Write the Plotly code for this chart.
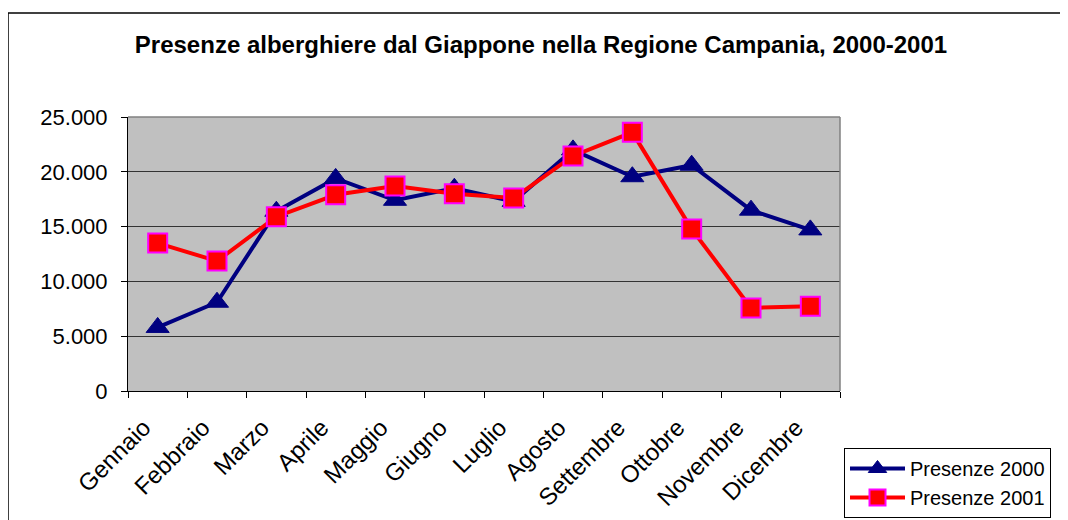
import plotly.graph_objects as go

months = ["Gennaio", "Febbraio", "Marzo", "Aprile", "Maggio", "Giugno",
          "Luglio", "Agosto", "Settembre", "Ottobre", "Novembre", "Dicembre"]
presenze_2000 = [5800, 8100, 16400, 19400, 17400, 18500, 17300, 22000, 19550, 20600, 16500, 14700]
presenze_2001 = [13500, 11850, 15900, 17900, 18700, 18000, 17600, 21450, 23600, 14770, 7580, 7740]
y_tickvals = [0, 5000, 10000, 15000, 20000, 25000]
y_ticktext = ["0", "5.000", "10.000", "15.000", "20.000", "25.000"]

font_family = "Liberation Sans, Arial, sans-serif"

# page body has an 8px margin; work in screen coords minus this offset
OFF = 8
W, H = 1068 - OFF, 520 - OFF
L, R, T, B = 128 - OFF, 840 - OFF, 117 - OFF, 391 - OFF
pw, ph = R - L, B - T

fig = go.Figure()
fig.add_trace(go.Scatter(
    x=months, y=presenze_2000, name="Presenze 2000", mode="lines+markers",
    line=dict(color="#000080", width=4),
    marker=dict(symbol="triangle-up", size=20, color="#000080",
                line=dict(color="#000080", width=1)),
))
fig.add_trace(go.Scatter(
    x=months, y=presenze_2001, name="Presenze 2001", mode="lines+markers",
    line=dict(color="#FF0000", width=4),
    marker=dict(symbol="square", size=19, color="#FF0000",
                line=dict(color="#FF00FF", width=2)),
))

fig.update_layout(
    width=W, height=H,
    margin=dict(l=L, r=W - R, t=T, b=H - B, pad=0, autoexpand=False),
    paper_bgcolor="white",
    plot_bgcolor="#C0C0C0",
    font=dict(family=font_family, color="black"),
    title=dict(text="<b>Presenze alberghiere dal Giappone nella Regione Campania, 2000-2001</b>",
               x=(541 - OFF) / W, xanchor="center", y=1 - (45 - OFF) / H, yanchor="middle",
               font=dict(size=24, family=font_family, color="black")),
    showlegend=True,
    legend=dict(x=(844 - OFF - L) / pw, xanchor="left", y=(B - (448 - OFF)) / ph, yanchor="top",
                bordercolor="black", borderwidth=1, bgcolor="white",
                font=dict(size=20, family=font_family, color="black"),
                tracegroupgap=0, itemwidth=55),
)
fig.update_xaxes(
    type="category", tickangle=-45, tickson="boundaries", automargin=False,
    ticks="outside", ticklen=6, tickcolor="black", tickwidth=1,
    showline=True, linecolor="black", linewidth=1, mirror=False,
    showgrid=False, tickfont=dict(size=24, family=font_family, color="black"),
    ticklabelshift=-14, ticklabelstandoff=12,
    range=[-0.5, 11.5],
)
fig.update_yaxes(
    range=[0, 25000], tickvals=y_tickvals, ticktext=y_ticktext, automargin=False,
    ticks="outside", ticklen=6, tickcolor="black", tickwidth=1,
    showline=True, linecolor="black", linewidth=1,
    showgrid=True, gridcolor="#333333", gridwidth=1, zeroline=False,
    tickfont=dict(size=22, family=font_family, color="black"),
    ticklabelstandoff=9,
)
# plot area top/right border (gray)
fig.add_shape(type="line", xref="paper", yref="paper", x0=0, x1=1, y0=1, y1=1,
              line=dict(color="#808080", width=1.5))
fig.add_shape(type="line", xref="paper", yref="paper", x0=1, x1=1, y0=0, y1=1,
              line=dict(color="#808080", width=1.5))
# outer chart border (top and left visible)
fig.add_shape(type="line", xref="paper", yref="paper",
              x0=(8 - OFF - L) / pw, x1=(W + 5 - L) / pw,
              y0=(B - (13 - OFF)) / ph, y1=(B - (13 - OFF)) / ph,
              line=dict(color="black", width=1.5))
fig.add_shape(type="line", xref="paper", yref="paper",
              x0=(8 - OFF - L) / pw, x1=(8 - OFF - L) / pw,
              y0=(B - (13 - OFF)) / ph, y1=(B - H - 5) / ph,
              line=dict(color="black", width=1.5))

fig.write_html("out.html")
